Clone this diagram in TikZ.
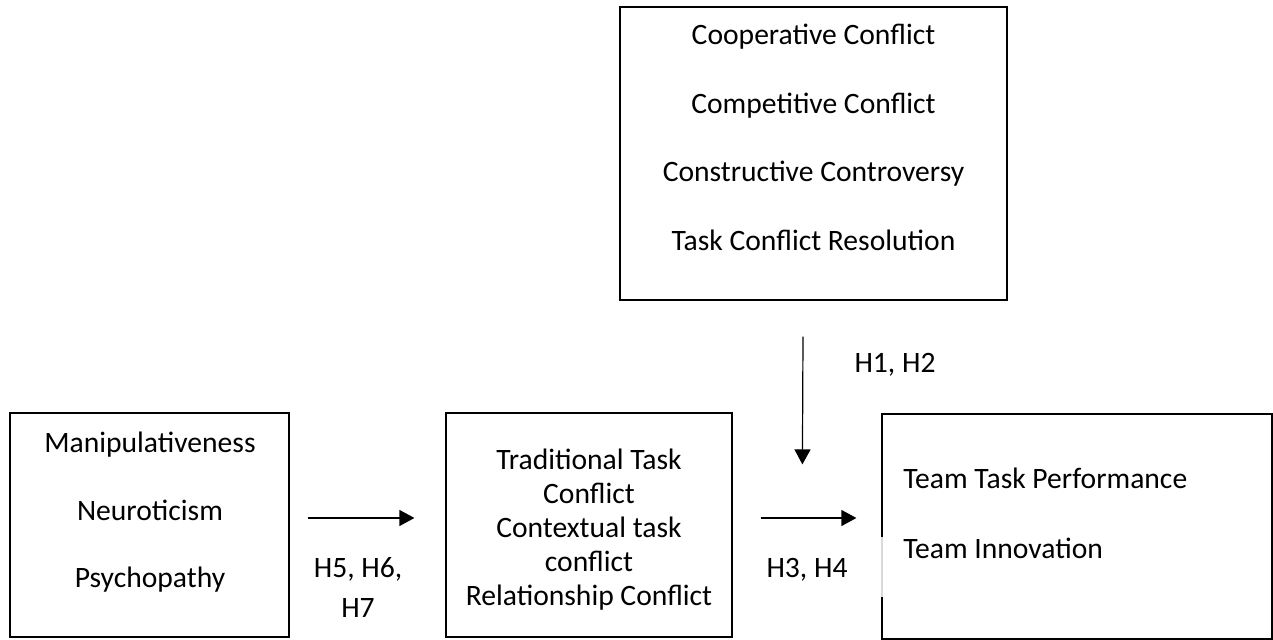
\documentclass[tikz,border=0pt]{standalone}
\usepackage{fontspec}
\setmainfont{Carlito}
\usetikzlibrary{arrows.meta,positioning}
\tikzset{
  framebox/.style={draw=black,line width=0.6pt,inner sep=0pt},
  itemtext/.style={anchor=base,inner sep=0pt,font=\fontsize{14.8}{17}\selectfont},
  hyplabel/.style={anchor=base,inner sep=0pt,align=center,font=\fontsize{14.8}{20}\selectfont},
  flow/.style={-{Triangle[length=7.5pt,width=8pt]},draw=black,line width=0.6pt}
}

\begin{document}
\begin{tikzpicture}[x=0.5pt,y=-0.5pt]
  \useasboundingbox (0,0) rectangle (1273,640);
  % boxes
  \node[framebox,minimum width=193.5pt,minimum height=146.5pt] (styles) at (813.5,153.5) {};
  \node[framebox,minimum width=139.5pt,minimum height=112pt] (traits) at (149.5,525) {};
  \node[framebox,minimum width=143pt,minimum height=112pt] (conflict) at (589,525) {};
  \node[framebox,minimum width=195pt,minimum height=112.5pt] (outcome) at (1077,526.5) {};
  % box contents
  \foreach \txt [count=\i] in {Cooperative Conflict,Competitive Conflict,Constructive Controversy,Task Conflict Resolution}
    \node[itemtext] (style-\i) at (813.5,{45+68.5*(\i-1)}) {\txt};
  \foreach \txt [count=\i] in {Manipulativeness,Neuroticism,Psychopathy}
    \node[itemtext] (trait-\i) at (150,{453+67*(\i-1)}) {\txt};
  \foreach \txt [count=\i] in {Traditional Task,Conflict,Contextual task,conflict,Relationship Conflict}
    \node[itemtext] (conf-\i) at (589,{470+33.75*(\i-1)}) {\txt};
  \node[itemtext,anchor=base west] (perf) at (903,488) {Team Task Performance};
  \node[itemtext,anchor=base west] (innov) at (903,558) {Team Innovation};
  % gap in the outcome frame
  \fill[white,opacity=0.85] ([xshift=-1.5pt,yshift=-5.25pt]outcome.west) rectangle ([xshift=1.5pt,yshift=-35.25pt]outcome.west);
  % connectors
  \draw[flow] ([xshift=9pt,yshift=3.5pt]traits.east) -- ([xshift=-15.5pt,yshift=3.5pt]conflict.west);
  \draw[flow] ([xshift=14pt,yshift=3.5pt]conflict.east) -- ([xshift=-12.5pt,yshift=4.25pt]outcome.west);
  \draw[flow] ([xshift=-5.25pt,yshift=-18pt]styles.south) -- ([xshift=-39.5pt,yshift=-25.5pt]outcome.north west);
  % hypotheses
  \node[hyplabel] (h567) at (358,617) {H5, H6,\\H7};
  \node[hyplabel] (h34) at (807,577) {H3, H4};
  \node[hyplabel] (h12) at (895,373) {H1, H2};
\end{tikzpicture}
\end{document}
